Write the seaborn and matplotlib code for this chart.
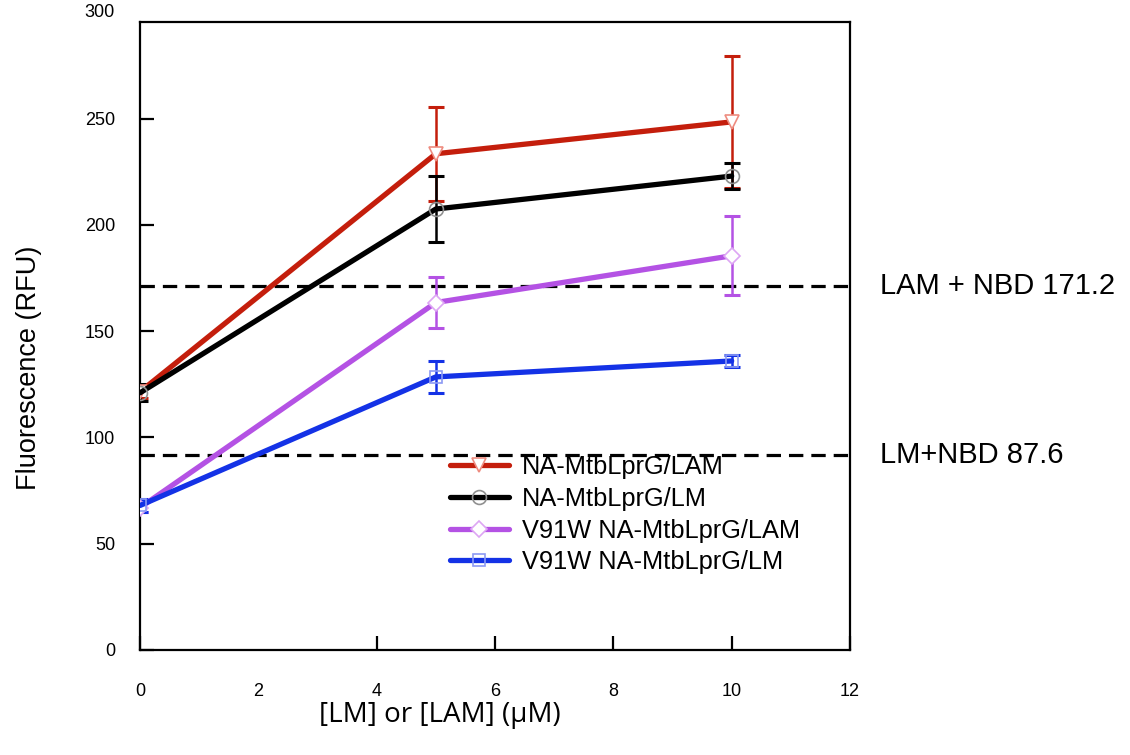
import matplotlib
matplotlib.use("Agg")
import matplotlib.pyplot as plt
import matplotlib.transforms as mtransforms
import seaborn as sns
import pandas as pd

# ---- data ----
conc = [0, 5, 10]
series_names = ["NA-MtbLprG/LAM", "NA-MtbLprG/LM",
                "V91W NA-MtbLprG/LAM", "V91W NA-MtbLprG/LM"]
lam_wt = [121.5, 233.5, 248.5]
lam_wt_err = [3, 22, 31]
lm_wt = [121, 207.5, 223]
lm_wt_err = [4, 15.5, 6]
lam_v91w = [67, 163.5, 185.5]
lam_v91w_err = [2, 12, 18.5]
lm_v91w = [68, 128.5, 136]
lm_v91w_err = [3, 7.5, 3]
ref_values = [171.5, 91.6]
ref_labels = ["LAM + NBD 171.2", "LM+NBD 87.6"]
x_ticks = [0, 2, 4, 6, 8, 10, 12]
y_ticks = [0, 50, 100, 150, 200, 250, 300]

values = [lam_wt, lm_wt, lam_v91w, lm_v91w]
errors = [lam_wt_err, lm_wt_err, lam_v91w_err, lm_v91w_err]
colors = ["#C41E0C", "#000000", "#B452E4", "#1432E6"]
edge_colors = ["#EE8C80", "#909090", "#DDA6F4", "#8C9AF4"]
face_colors = ["white", "none", "white", "none"]
markers = ["v", "o", "D", "s"]
msizes = [10, 10, 8, 9]

sns.set_style("white")
plt.rcParams["font.family"] = ["Liberation Sans", "DejaVu Sans"]
plt.rcParams["text.color"] = "black"
plt.rcParams["axes.labelcolor"] = "black"
plt.rcParams["xtick.color"] = "black"
plt.rcParams["ytick.color"] = "black"

fig = plt.figure(figsize=(11.3, 7.55), dpi=100)
ax = fig.add_axes([140 / 1130, 105 / 755, 710 / 1130, 628 / 755])

rows = []
for name, vals, errs in zip(series_names, values, errors):
    for c, v, e in zip(conc, vals, errs):
        rows.append({"series": name, "conc": c, "rfu": v, "err": e})
df = pd.DataFrame(rows)

for rv in ref_values:
    ax.axhline(rv, color="black", lw=2.3, ls=(0, (4.5, 2.5)), zorder=1)

handles = []
for i, name in enumerate(series_names):
    sub = df[df["series"] == name]
    ax.errorbar(sub["conc"], sub["rfu"], yerr=sub["err"], fmt="none",
                ecolor=colors[i], elinewidth=1.8, capsize=5.5, capthick=2.2,
                zorder=2 + i * 0.1)
    sns.lineplot(data=sub, x="conc", y="rfu", ax=ax, color=colors[i],
                 lw=3.8, marker=markers[i], markersize=msizes[i],
                 markerfacecolor=face_colors[i], markeredgecolor=edge_colors[i],
                 markeredgewidth=1.2, label=name, zorder=3 + i * 0.1,
                 legend=False)
    handles.append(ax.lines[-1])

ax.set_xlim(0, 12)
ax.set_ylim(0, 295.5)
ax.set_xticks(x_ticks)
ax.set_yticks(y_ticks[:-1])

ax.tick_params(axis="both", direction="in", length=10, width=1.6,
               labelsize=13, color="black", labelcolor="black",
               bottom=True, left=True, top=False, right=False)
ax.tick_params(axis="x", pad=24)
ax.tick_params(axis="y", pad=18)
# hide ticks at the box corners
for t in ax.xaxis.get_major_ticks():
    if t.get_loc() in (0, 12):
        t.tick1line.set_visible(False)
for t in ax.yaxis.get_major_ticks():
    if t.get_loc() == 0:
        t.tick1line.set_visible(False)

# top label "300"
trans_y = mtransforms.blended_transform_factory(ax.transAxes, ax.transData)
ax.text(-0.036, y_ticks[-1], str(y_ticks[-1]), transform=trans_y,
        ha="right", va="center", fontsize=13, clip_on=False)

for sp in ax.spines.values():
    sp.set_visible(True)
    sp.set_color("black")
    sp.set_linewidth(1.6)

ax.set_xlabel("[LM] or [LAM] (µM)", fontsize=20,
              family=["Open Sans", "DejaVu Sans"])
ax.xaxis.set_label_coords(0.4225, -0.082)
ax.set_ylabel("Fluorescence (RFU)", fontsize=19.5)
ax.yaxis.set_label_coords(-0.138, 0.45)

for rv, rl in zip(ref_values, ref_labels):
    ax.text(1.042, rv, rl, transform=trans_y, ha="left", va="center",
            fontsize=21, clip_on=False)

leg = ax.legend(handles=handles, labels=series_names, loc="upper left",
                bbox_to_anchor=(0.436, 0.31), frameon=False, fontsize=18.3,
                borderpad=0, borderaxespad=0, labelspacing=0.3,
                handlelength=2.35, handletextpad=0.5)

fig.savefig("out.png", dpi=100, facecolor="white")
